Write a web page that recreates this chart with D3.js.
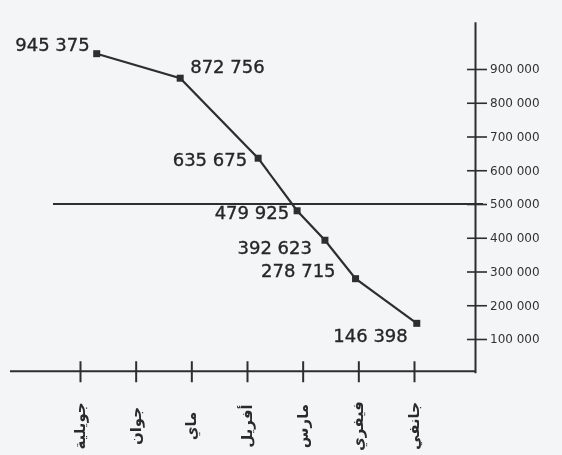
<!DOCTYPE html>
<html lang="ar">
<head>
  <meta charset="UTF-8">
  <title>chart</title>
  <script src="https://d3js.org/d3.v7.min.js"></script>
  <style>
    html, body { margin: 0; padding: 0; background: #f3f5f7; }
    svg { display: block; }
    .pt-label { font-family: "DejaVu Sans", sans-serif; font-size: 18px; fill: #262626; stroke: #262626; stroke-width: 0.35px; }
    .y-axis text { font-family: "DejaVu Sans", sans-serif; font-size: 12px; fill: #333; }
    .month { font-family: "DejaVu Sans", sans-serif; font-size: 15px; font-weight: bold; fill: #2b2b2b; }
  </style>
</head>
<body>
<svg width="562" height="455"></svg>
<script>
// months, left to right
const months = ["جويلية", "جوان", "ماي", "أفريل", "مارس", "فيفري", "جانفي"];
// values shown on the curve
const values = [945375, 872756, 635675, 479925, 392623, 278715, 146398];
// where each point sits along the month axis
const monthPos = [0.3, 1.8, 3.2, 3.9, 4.4, 4.95, 6.05];
const yTicks = [100000, 200000, 300000, 400000, 500000, 600000, 700000, 800000, 900000];
const refValue = 500000;

// label placement next to each point
const labelPlace = [
  {dx: -7, dy: -9, anchor: "end"},
  {dx: 10, dy: -11, anchor: "start"},
  {dx: -11, dy: 1, anchor: "end"},
  {dx: -8, dy: 2, anchor: "end"},
  {dx: -13, dy: 7, anchor: "end"},
  {dx: -20, dy: -8, anchor: "end"},
  {dx: -9, dy: 12, anchor: "end"}
];

const svg = d3.select("svg");
const axisX = 475;
const ink = "#2e2e2e";

const x = d3.scaleLinear().domain([0, 6]).range([80, 414]);
const y = d3.scaleLinear().domain([0, 1040000]).range([372.75, 21.75]);

const fmt = d3.formatLocale({decimal: ",", thousands: " ", grouping: [3], currency: ["", ""]}).format(",");

svg.append("defs").append("filter").attr("id", "soft")
  .append("feGaussianBlur").attr("stdDeviation", 0.35);
const g = svg.append("g").attr("filter", "url(#soft)");

// base line of the month axis
g.append("line")
  .attr("x1", 10).attr("x2", axisX)
  .attr("y1", y(0) - 1.5).attr("y2", y(0) - 1.5)
  .attr("stroke", ink).attr("stroke-width", 2);

const xAxis = g.append("g")
  .attr("transform", `translate(0,${y(0) - 1.5})`)
  .call(d3.axisBottom(x).tickValues(d3.range(months.length)).tickSize(11).tickFormat(""));
xAxis.select(".domain").remove();
xAxis.selectAll(".tick line")
  .attr("y1", -10).attr("stroke", ink).attr("stroke-width", 2);

// month names, turned upright
g.selectAll(".month")
  .data(months)
  .enter().append("text")
  .attr("class", "month")
  .attr("transform", (d, i) => `translate(${x(i) + 5},426) rotate(-90)`)
  .attr("text-anchor", "middle")
  .text(d => d);

// right value axis
const yAxis = g.append("g")
  .attr("class", "y-axis")
  .attr("transform", `translate(${axisX},0)`)
  .call(d3.axisRight(y).tickValues(yTicks).tickSizeInner(12).tickSizeOuter(0).tickPadding(3).tickFormat(fmt));
yAxis.select(".domain").attr("stroke", ink).attr("stroke-width", 2);
yAxis.selectAll(".tick line").attr("x1", -8).attr("stroke", ink).attr("stroke-width", 1.6);

// reference line at 500 000
g.append("line")
  .attr("x1", 53).attr("x2", axisX + 8)
  .attr("y1", y(refValue)).attr("y2", y(refValue))
  .attr("stroke", ink).attr("stroke-width", 2);

const pts = values.map((v, i) => ({v: v, p: monthPos[i], i: i}));

g.append("path")
  .datum(pts)
  .attr("fill", "none")
  .attr("stroke", ink)
  .attr("stroke-width", 2.2)
  .attr("d", d3.line().x(d => x(d.p)).y(d => y(d.v)));

g.selectAll(".pt")
  .data(pts)
  .enter().append("rect")
  .attr("class", "pt")
  .attr("x", d => x(d.p) - 3.5)
  .attr("y", d => y(d.v) - 3.5)
  .attr("width", 7).attr("height", 7)
  .attr("fill", ink);

g.selectAll(".pt-label")
  .data(pts)
  .enter().append("text")
  .attr("class", "pt-label")
  .attr("x", d => x(d.p) + labelPlace[d.i].dx)
  .attr("y", d => y(d.v) + labelPlace[d.i].dy)
  .attr("dy", "0.35em")
  .attr("text-anchor", d => labelPlace[d.i].anchor)
  .text(d => fmt(d.v));
</script>
</body>
</html>
